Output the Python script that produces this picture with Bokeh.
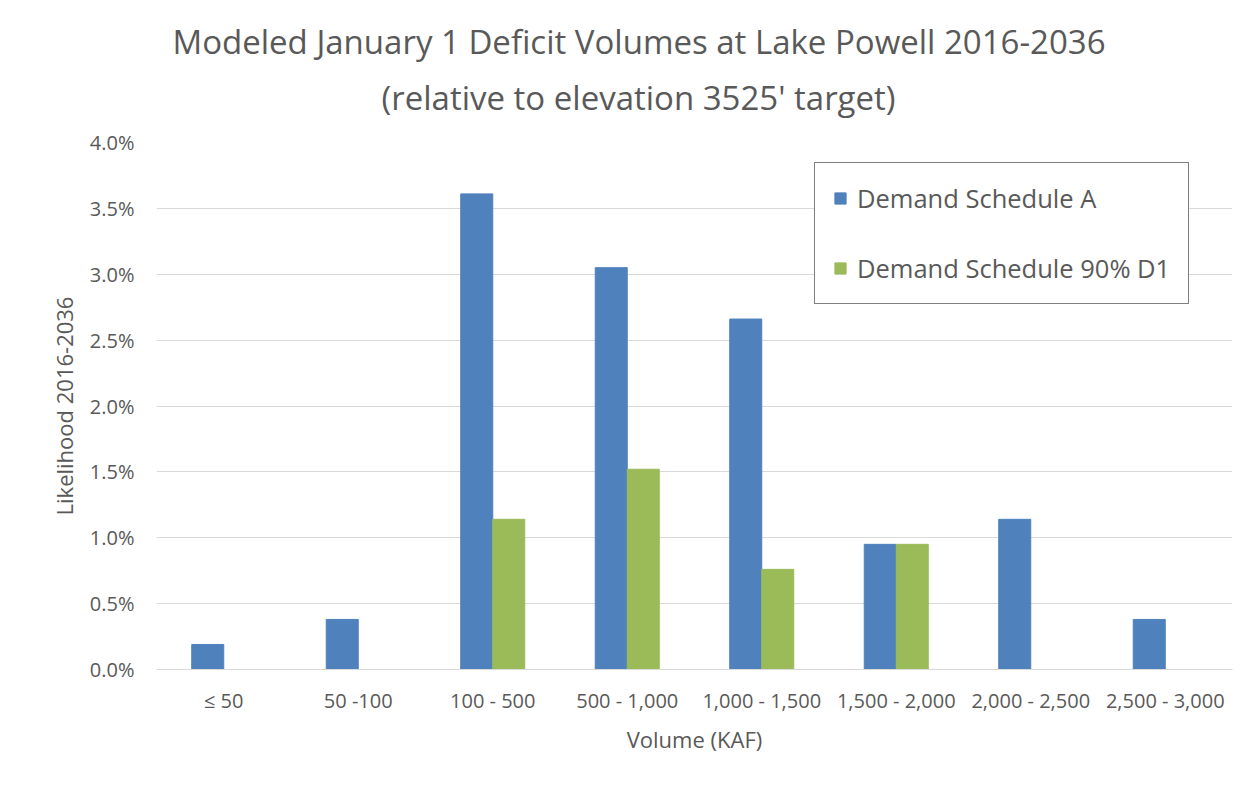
from bokeh.plotting import figure
from bokeh.models import (FactorRange, Range1d, FixedTicker, PrintfTickFormatter,
                          Legend, LegendItem, Title, ColumnDataSource)
from bokeh.transform import dodge
from bokeh.embed import file_html
from bokeh.resources import INLINE

categories = ["≤ 50", "50 -100", "100 - 500", "500 - 1,000", "1,000 - 1,500",
              "1,500 - 2,000", "2,000 - 2,500", "2,500 - 3,000"]
schedule_a = [0.19, 0.38, 3.61, 3.05, 2.66, 0.95, 1.14, 0.38]
schedule_90_d1 = [0.0, 0.0, 1.14, 1.52, 0.76, 0.95, 0.0, 0.0]
y_ticks = [0.0, 0.5, 1.0, 1.5, 2.0, 2.5, 3.0, 3.5, 4.0]
series_names = ["Demand Schedule A", "Demand Schedule 90% D1"]
title_lines = ["Modeled January 1 Deficit Volumes at Lake Powell 2016-2036",
               "(relative to elevation 3525' target)"]

FONT = "Open Sans"
GRAY = "#595959"
BLUE = "#4F81BD"
GREEN = "#9BBB59"

src = ColumnDataSource(dict(cat=categories, a=schedule_a, d1=schedule_90_d1))

p = figure(x_range=FactorRange(*categories, range_padding=0),
           y_range=Range1d(0, 4.0),
           width=1252, height=788,
           min_border_left=156, min_border_right=20,
           min_border_top=142, min_border_bottom=119,
           output_backend="svg", toolbar_location=None)

bw = 0.238
ra = p.vbar(x=dodge("cat", -bw / 2, range=p.x_range), top="a", width=bw, source=src,
            fill_color=BLUE, line_color=BLUE)
rd = p.vbar(x=dodge("cat", bw / 2, range=p.x_range), top="d1", width=bw, source=src,
            fill_color=GREEN, line_color=GREEN)

p.outline_line_color = None
p.background_fill_color = "white"
p.border_fill_color = "white"

p.xgrid.grid_line_color = None
p.ygrid.grid_line_color = "#d9d9d9"
p.ygrid.grid_line_width = 1

p.yaxis.ticker = FixedTicker(ticks=y_ticks)
p.yaxis.formatter = PrintfTickFormatter(format="%.1f%%")
p.yaxis.axis_line_color = None
p.yaxis.major_tick_line_color = None
p.yaxis.minor_tick_line_color = None
p.yaxis.major_label_standoff = 16
p.yaxis.major_label_text_font = FONT
p.yaxis.major_label_text_font_size = "20px"
p.yaxis.major_label_text_color = GRAY
p.yaxis.axis_label = "Likelihood 2016-2036"
p.yaxis.axis_label_text_font = FONT
p.yaxis.axis_label_text_font_size = "22px"
p.yaxis.axis_label_text_font_style = "normal"
p.yaxis.axis_label_text_color = GRAY
p.yaxis.axis_label_standoff = 8

p.xaxis.axis_line_color = "#d9d9d9"
p.xaxis.major_tick_line_color = None
p.xaxis.minor_tick_line_color = None
p.xaxis.major_label_standoff = 11
p.xaxis.major_label_text_font = FONT
p.xaxis.major_label_text_font_size = "20px"
p.xaxis.major_label_text_color = GRAY
p.xaxis.axis_label = "Volume (KAF)"
p.xaxis.axis_label_text_font = FONT
p.xaxis.axis_label_text_font_size = "22px"
p.xaxis.axis_label_text_font_style = "normal"
p.xaxis.axis_label_text_color = GRAY
p.xaxis.axis_label_standoff = 7

legend = Legend(items=[LegendItem(label=series_names[0], renderers=[ra]),
                       LegendItem(label=series_names[1], renderers=[rd])],
                location=(658, 365), orientation="vertical",
                glyph_width=14, glyph_height=14, label_standoff=10,
                label_height=30, spacing=36, padding=18, margin=0,
                label_text_font=FONT, label_text_font_size="25.5px",
                label_text_color=GRAY,
                border_line_color="#000000", border_line_width=1,
                background_fill_color="white", background_fill_alpha=1)
p.add_layout(legend, "center")

p.add_layout(Title(text=title_lines[1], align="left", offset=225, standoff=46,
                   text_font=FONT, text_font_size="33px", text_font_style="normal",
                   text_color=GRAY), "above")
p.add_layout(Title(text=title_lines[0], align="left", offset=16, standoff=-28,
                   text_font=FONT, text_font_size="33px", text_font_style="normal",
                   text_color=GRAY), "above")

open("out.html", "w").write(file_html(p, INLINE))
